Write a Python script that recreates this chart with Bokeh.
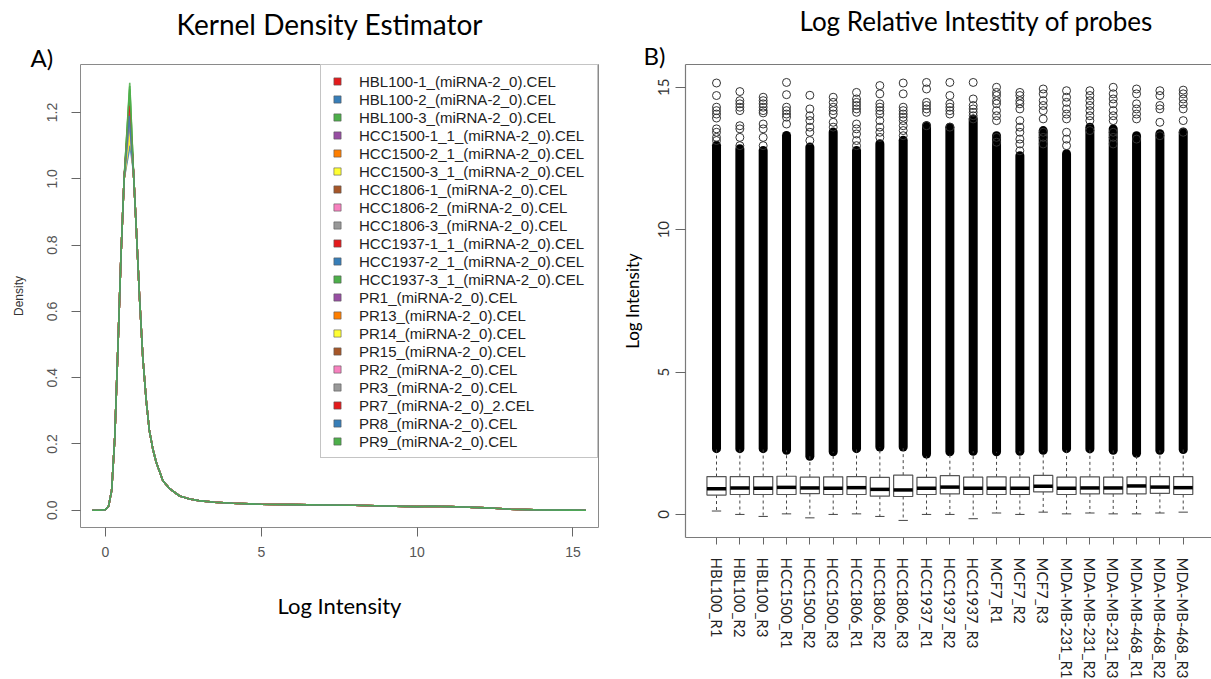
from bokeh.plotting import figure
from bokeh.models import (Legend, LegendItem, FixedTicker, PrintfTickFormatter,
                          Title, LinearAxis, Range1d)
from bokeh.layouts import row
from bokeh.embed import file_html
from bokeh.resources import INLINE

NAN = float("nan")

# ---------------- data: panel A (kernel density) ----------------
samples = ["HBL100-1_(miRNA-2_0).CEL", "HBL100-2_(miRNA-2_0).CEL", "HBL100-3_(miRNA-2_0).CEL",
           "HCC1500-1_1_(miRNA-2_0).CEL", "HCC1500-2_1_(miRNA-2_0).CEL", "HCC1500-3_1_(miRNA-2_0).CEL",
           "HCC1806-1_(miRNA-2_0).CEL", "HCC1806-2_(miRNA-2_0).CEL", "HCC1806-3_(miRNA-2_0).CEL",
           "HCC1937-1_1_(miRNA-2_0).CEL", "HCC1937-2_1_(miRNA-2_0).CEL", "HCC1937-3_1_(miRNA-2_0).CEL",
           "PR1_(miRNA-2_0).CEL", "PR13_(miRNA-2_0).CEL", "PR14_(miRNA-2_0).CEL",
           "PR15_(miRNA-2_0).CEL", "PR2_(miRNA-2_0).CEL", "PR3_(miRNA-2_0).CEL",
           "PR7_(miRNA-2_0)_2.CEL", "PR8_(miRNA-2_0).CEL", "PR9_(miRNA-2_0).CEL"]
colors = ["#E41A1C", "#377EB8", "#4DAF4A", "#984EA3", "#FF7F00", "#FFFF33", "#A65628", "#F781BF", "#999999",
          "#E41A1C", "#377EB8", "#4DAF4A", "#984EA3", "#FF7F00", "#FFFF33", "#A65628", "#F781BF", "#999999",
          "#E41A1C", "#377EB8", "#4DAF4A"]
peak_x = [0.77, 0.76, 0.78, 0.77, 0.79, 0.80, 0.77, 0.76, 0.78, 0.77, 0.79, 0.78,
          0.77, 0.78, 0.79, 0.77, 0.76, 0.78, 0.77, 0.76, 0.78]
peak_y = [1.21, 1.19, 1.29, 1.20, 1.13, 1.12, 1.22, 1.18, 1.16, 1.23, 1.10, 1.27,
          1.20, 1.15, 1.14, 1.21, 1.20, 1.17, 1.22, 1.19, 1.28]
rise_x = [-0.42, -0.2, 0.0, 0.1, 0.2, 0.3, 0.4, 0.5, 0.6]
rise_y = [0.0, 0.0, 0.002, 0.012, 0.06, 0.22, 0.49, 0.77, 1.0]
fall_x = [0.9, 0.98, 1.09, 1.2, 1.31, 1.41, 1.52, 1.63, 1.84, 2.06, 2.38, 2.7, 3.0, 3.5, 4.1,
          5.0, 6.0, 7.0, 8.0, 9.0, 10.0, 10.5, 11.0, 11.5, 12.0, 12.5, 13.0, 13.5, 14.0, 15.0, 15.42]
fall_y = [1.02, 0.87, 0.65, 0.46, 0.33, 0.24, 0.185, 0.145, 0.09, 0.065, 0.043, 0.034, 0.029, 0.024, 0.021,
          0.018, 0.017, 0.016, 0.015, 0.013, 0.011, 0.012, 0.011, 0.010, 0.008, 0.006, 0.003, 0.002, 0.001,
          0.0005, 0.0]
dens_xticks = [0, 5, 10, 15]
dens_yticks = [0.0, 0.2, 0.4, 0.6, 0.8, 1.0, 1.2]

# ---------------- data: panel B (boxplots) ----------------
box_labels = ["HBL100_R1", "HBL100_R2", "HBL100_R3", "HCC1500_R1", "HCC1500_R2", "HCC1500_R3",
              "HCC1806_R1", "HCC1806_R2", "HCC1806_R3", "HCC1937_R1", "HCC1937_R2", "HCC1937_R3",
              "MCF7_R1", "MCF7_R2", "MCF7_R3", "MDA-MB-231_R1", "MDA-MB-231_R2", "MDA-MB-231_R3",
              "MDA-MB-468_R1", "MDA-MB-468_R2", "MDA-MB-468_R3"]
q1 = [0.68, 0.70, 0.70, 0.70, 0.73, 0.70, 0.70, 0.64, 0.63, 0.70, 0.72, 0.70,
      0.70, 0.70, 0.79, 0.70, 0.72, 0.72, 0.72, 0.74, 0.70]
median = [0.90, 0.93, 0.92, 0.95, 0.93, 0.92, 0.94, 0.88, 0.86, 0.92, 0.96, 0.92,
          0.92, 0.92, 0.99, 0.92, 0.93, 0.93, 1.00, 0.96, 0.94]
q3 = [1.33, 1.33, 1.33, 1.34, 1.31, 1.32, 1.33, 1.30, 1.38, 1.30, 1.36, 1.31,
      1.32, 1.31, 1.37, 1.31, 1.32, 1.31, 1.32, 1.33, 1.33]
whisker_low = [0.12, 0.0, -0.07, 0.02, -0.12, 0.0, 0.02, -0.07, -0.21, 0.0, 0.0, -0.15,
               0.05, 0.0, 0.08, 0.02, 0.05, 0.02, 0.02, 0.05, 0.08]
whisker_high = [2.31, 2.31, 2.31, 2.25, 2.04, 2.20, 2.31, 2.37, 2.37, 2.12, 2.20, 2.22,
                2.20, 2.22, 2.25, 2.31, 2.30, 2.25, 2.15, 2.25, 2.28]
dense_top = [12.96, 12.84, 12.78, 13.31, 12.90, 13.43, 12.78, 13.02, 13.14, 13.65, 13.60, 13.89,
             13.30, 12.60, 13.48, 12.67, 13.60, 13.54, 13.30, 13.37, 13.43]
outliers = [
    [15.15, 14.71, 14.30, 14.18, 14.06, 13.92, 13.54, 13.42, 13.24, 13.13],
    [14.85, 14.53, 14.42, 14.30, 14.18, 13.65, 13.54, 13.24, 12.95],
    [14.65, 14.53, 14.42, 14.30, 14.18, 14.10, 13.71, 13.54, 13.24, 12.95],
    [15.17, 14.74, 14.30, 14.18, 14.06, 13.95, 13.71],
    [14.72, 14.24, 14.00, 13.83, 13.60, 13.42, 13.13],
    [14.65, 14.47, 14.30, 14.18, 14.06, 13.77, 13.60],
    [14.82, 14.59, 14.47, 14.36, 14.24, 14.12, 13.71, 13.54, 13.36, 13.13, 12.95],
    [15.06, 14.77, 14.42, 14.30, 14.18, 14.06, 13.83, 13.60, 13.42, 13.24],
    [15.15, 14.77, 14.30, 14.18, 14.06, 13.95, 13.83, 13.65, 13.48, 13.30],
    [15.17, 14.94, 14.47, 14.36, 14.24, 14.12, 13.65],
    [15.17, 14.71, 14.42, 14.30, 14.18, 14.06, 13.60],
    [15.17, 14.59, 14.36, 14.24, 14.12, 14.00, 13.89],
    [15.00, 14.82, 14.71, 14.53, 14.42, 14.18, 14.00, 13.83, 13.24, 13.07],
    [14.82, 14.71, 14.53, 14.42, 14.24, 13.83, 13.60, 13.42, 13.18, 13.01, 12.77],
    [14.94, 14.77, 14.53, 14.36, 14.18, 13.89, 13.42, 13.24, 13.01],
    [14.88, 14.65, 14.47, 14.24, 14.06, 13.89, 13.42, 13.18, 12.95],
    [14.88, 14.71, 14.53, 14.36, 14.18, 14.00, 13.83, 13.48],
    [15.00, 14.77, 14.59, 14.42, 14.18, 14.00, 13.83, 13.42, 13.24, 13.01],
    [14.94, 14.77, 14.42, 14.24, 14.06, 13.89, 13.18],
    [14.88, 14.71, 14.36, 14.24, 13.77, 13.30],
    [14.90, 14.77, 14.59, 14.42, 14.24, 13.83, 13.42],
]
box_yticks = [0, 5, 10, 15]

FONT_T = "Lato"
FONT_R = "Liberation Sans"

# ================= panel A =================
p1 = figure(frame_width=518, frame_height=463, min_border_left=80, min_border_right=7,
            min_border_top=62, min_border_bottom=154,
            x_range=Range1d(-0.80, 15.82), y_range=Range1d(-0.052, 1.345),
            output_backend="svg", toolbar_location=None)
p1.grid.visible = False
p1.outline_line_color = "#8a8a8a"
p1.outline_line_width = 1
p1.background_fill_color = "white"
p1.border_fill_color = "white"

items = []
for i, name in enumerate(samples):
    xs = rise_x + [peak_x[i]] + fall_x
    ys = rise_y + [peak_y[i]] + fall_y
    p1.line(xs, ys, line_color=colors[i], line_width=1.6, line_alpha=0.85)
    sq = p1.scatter([NAN], [NAN], marker="square", fill_color=colors[i], line_color="#555555",
                    line_width=0.6)
    items.append(LegendItem(label=name, renderers=[sq]))

legend = Legend(items=items, location="top_right", margin=0, padding=7, spacing=0,
                glyph_width=18, glyph_height=18, label_height=18, label_width=231,
                label_standoff=13, label_text_font=FONT_R, label_text_font_size="15px",
                label_text_color="#222222", border_line_color="#8a8a8a", border_line_width=1,
                background_fill_color="white", background_fill_alpha=1.0)
p1.add_layout(legend)

p1.xaxis.ticker = FixedTicker(ticks=dens_xticks)
p1.yaxis.ticker = FixedTicker(ticks=dens_yticks)
p1.yaxis.formatter = PrintfTickFormatter(format="%.1f")
for ax in (p1.xaxis, p1.yaxis):
    ax.axis_line_color = None
    ax.major_tick_line_color = "#666666"
    ax.major_tick_in = 0
    ax.major_tick_out = 9
    ax.minor_tick_line_color = None
    ax.major_label_text_font = FONT_R
    ax.major_label_text_font_size = "14px"
    ax.major_label_text_color = "#555555"
    ax.major_label_standoff = 10
p1.yaxis.major_label_orientation = "vertical"
p1.yaxis.major_label_standoff = 14
p1.yaxis.axis_label = "Density"
p1.yaxis.axis_label_text_font = FONT_R
p1.yaxis.axis_label_text_font_size = "12px"
p1.yaxis.axis_label_text_font_style = "normal"
p1.yaxis.axis_label_text_color = "#333333"
p1.yaxis.axis_label_standoff = 19
p1.xaxis.axis_label = "Log Intensity"
p1.xaxis.axis_label_text_font = FONT_T
p1.xaxis.axis_label_text_font_size = "22px"
p1.xaxis.axis_label_text_font_style = "normal"
p1.xaxis.axis_label_text_color = "#000000"
p1.xaxis.axis_label_standoff = 32

# titles: first added sits next to the frame
p1.add_layout(Title(text="A)", align="left", offset=-50, vertical_align="bottom", standoff=-14,
                    text_font=FONT_T, text_font_size="24px", text_font_style="normal",
                    text_color="#000000"), "above")
p1.add_layout(Title(text="Kernel Density Estimator", align="left", offset=96, vertical_align="top",
                    standoff=8.5, text_font=FONT_T, text_font_size="28px", text_font_style="normal",
                    text_color="#000000"), "above")

# ================= panel B =================
p2 = figure(frame_width=526, frame_height=473, min_border_left=80, min_border_right=0,
            min_border_top=64, min_border_bottom=142,
            x_range=Range1d(-0.329, 22.212), y_range=Range1d(-0.81, 15.8),
            output_backend="svg", toolbar_location=None)
p2.grid.visible = False
p2.outline_line_color = None
p2.background_fill_color = "white"
p2.border_fill_color = "white"

pos = list(range(1, len(box_labels) + 1))
bw = 0.82
cap = 0.2
# dense outlier columns
p2.segment(x0=pos, y0=whisker_high, x1=pos, y1=dense_top, line_color="#000000",
           line_width=9, line_cap="round")
# sparse outlier circles
ox, oy = [], []
for i, vals in enumerate(outliers):
    for v in vals:
        ox.append(pos[i])
        oy.append(v)
p2.scatter(ox, oy, marker="circle", size=8, fill_color=None, line_color="#333333", line_width=1)
# whiskers
p2.segment(x0=pos, y0=q3, x1=pos, y1=whisker_high, line_color="#444444", line_width=1, line_dash="3 3")
p2.segment(x0=pos, y0=q1, x1=pos, y1=whisker_low, line_color="#444444", line_width=1, line_dash="3 3")
p2.segment(x0=[x - cap for x in pos], y0=whisker_low, x1=[x + cap for x in pos], y1=whisker_low,
           line_color="#444444", line_width=1)
# boxes
p2.vbar(x=pos, width=bw, bottom=q1, top=q3, fill_color="white", line_color="#555555", line_width=1.2)
p2.segment(x0=[x - bw / 2 for x in pos], y0=median, x1=[x + bw / 2 for x in pos], y1=median,
           line_color="#000000", line_width=3.5)

p2.xaxis.ticker = FixedTicker(ticks=pos)
p2.xaxis.major_label_overrides = {p: lab for p, lab in zip(pos, box_labels)}
p2.xaxis.major_label_orientation = "vertical"
p2.yaxis.ticker = FixedTicker(ticks=box_yticks)
p2.yaxis.major_label_orientation = "vertical"
for ax in (p2.xaxis, p2.yaxis):
    ax.axis_line_color = "#7a7a7a"
    ax.axis_line_width = 1.2
    ax.major_tick_line_color = "#666666"
    ax.major_tick_in = 0
    ax.minor_tick_line_color = None
    ax.major_label_text_font = FONT_T
    ax.major_label_text_color = "#222222"
p2.xaxis.major_tick_out = 7
p2.xaxis.major_label_standoff = 13
p2.xaxis.major_label_text_font_size = "15px"
p2.yaxis.major_tick_out = 10
p2.yaxis.major_label_standoff = 6
p2.yaxis.major_label_text_font_size = "15px"
p2.yaxis.major_label_text_color = "#333333"
p2.yaxis.axis_label = "Log Intensity"
p2.yaxis.axis_label_text_font = FONT_T
p2.yaxis.axis_label_text_font_size = "17px"
p2.yaxis.axis_label_text_font_style = "normal"
p2.yaxis.axis_label_text_color = "#000000"
p2.yaxis.axis_label_standoff = 13

top_ax = LinearAxis(ticker=FixedTicker(ticks=[]), axis_line_color="#7a7a7a", axis_line_width=1.2,
                    major_tick_line_color=None, minor_tick_line_color=None, major_tick_out=0,
                    major_tick_in=0, major_label_standoff=0, major_label_text_font_size="0px")
p2.add_layout(top_ax, "above")
p2.add_layout(Title(text="B)", align="left", offset=-42, vertical_align="bottom", standoff=-11,
                    text_font=FONT_T, text_font_size="24px", text_font_style="normal",
                    text_color="#000000"), "above")
p2.add_layout(Title(text="Log Relative Intestity of probes", align="left", offset=114,
                    vertical_align="top", standoff=9.5, text_font=FONT_T, text_font_size="26px",
                    text_font_style="normal", text_color="#000000"), "above")

layout = row(p1, p2)
open("out.html", "w").write(file_html(layout, INLINE))
